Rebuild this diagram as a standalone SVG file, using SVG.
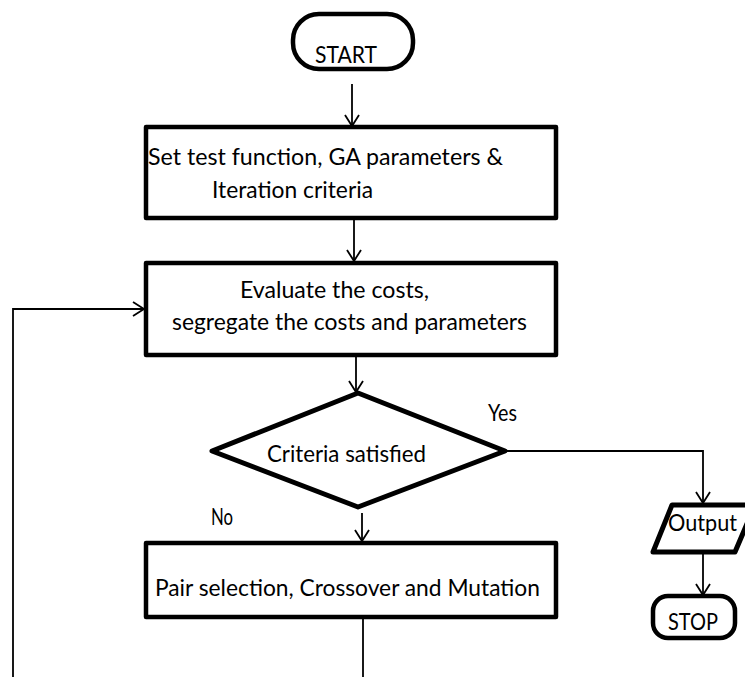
<svg xmlns="http://www.w3.org/2000/svg" width="745" height="677" viewBox="0 0 745 677">
<style>
  .shape { fill: #ffffff; stroke: #000000; stroke-width: 4.5; stroke-linejoin: round; }
  .conn { fill: none; stroke: #000000; stroke-width: 1.8; }
  .lbl { font-family: Lato, "Open Sans", "Liberation Sans", sans-serif; font-size: 23px; fill: #000000; }
</style>
<defs>
  <marker id="arr" viewBox="-12 -8 14 16" refX="0" refY="0" markerWidth="14" markerHeight="16" markerUnits="userSpaceOnUse" orient="auto" overflow="visible">
    <path d="M-11,-7 L0,0 L-11,7" fill="none" stroke="#000000" stroke-width="1.8"/>
  </marker>
</defs>
<rect width="745" height="677" fill="#ffffff"/>

<g id="connectors">
  <line class="conn" x1="352" y1="84" x2="352" y2="126" marker-end="url(#arr)"/>
  <line class="conn" x1="354" y1="219" x2="354" y2="261" marker-end="url(#arr)"/>
  <polyline class="conn" points="13,677 13,309 144,309" marker-end="url(#arr)"/>
  <line class="conn" x1="356" y1="356" x2="356" y2="392" marker-end="url(#arr)"/>
  <line class="conn" x1="362" y1="513" x2="362" y2="541" marker-end="url(#arr)"/>
  <polyline class="conn" points="505,451 703,451 703,503" marker-end="url(#arr)"/>
  <line class="conn" x1="703" y1="545" x2="703" y2="595" marker-end="url(#arr)"/>
  <line class="conn" x1="363" y1="617" x2="363" y2="677"/>
  <text class="lbl" x="488" y="421" textLength="29" lengthAdjust="spacingAndGlyphs">Yes</text>
  <text class="lbl" x="211" y="525" textLength="22" lengthAdjust="spacingAndGlyphs">No</text>
</g>

<g id="start">
  <rect class="shape" x="293" y="14" width="120" height="55" rx="26" ry="26"/>
  <text class="lbl" x="315" y="63" textLength="62" lengthAdjust="spacingAndGlyphs">START</text>
</g>

<g id="setup">
  <rect class="shape" x="146" y="127" width="410" height="91"/>
  <text class="lbl" x="148" y="165" textLength="355" lengthAdjust="spacingAndGlyphs">Set test function, GA parameters &amp;</text>
  <text class="lbl" x="212" y="198" textLength="161" lengthAdjust="spacingAndGlyphs">Iteration criteria</text>
</g>

<g id="evaluate">
  <rect class="shape" x="146" y="263" width="410" height="92"/>
  <text class="lbl" x="240" y="298" textLength="189" lengthAdjust="spacingAndGlyphs">Evaluate the costs,</text>
  <text class="lbl" x="172" y="330" textLength="355" lengthAdjust="spacingAndGlyphs">segregate the costs and parameters</text>
</g>

<g id="decision">
  <polygon class="shape" points="358,393 505,451 358,507 212,451" style="stroke-width:5"/>
  <text class="lbl" x="267" y="462" textLength="159" lengthAdjust="spacingAndGlyphs">Criteria satisfied</text>
</g>

<g id="operators">
  <rect class="shape" x="146" y="543" width="410" height="74"/>
  <text class="lbl" x="155" y="596" textLength="385" lengthAdjust="spacingAndGlyphs">Pair selection, Crossover and Mutation</text>
</g>

<g id="output">
  <polygon class="shape" points="672,505 755,505 735,552 653,552" style="stroke-width:5"/>
  <text class="lbl" x="668" y="531" textLength="69" lengthAdjust="spacingAndGlyphs">Output</text>
</g>

<g id="stop">
  <rect class="shape" x="653" y="596" width="82" height="42" rx="15" ry="15"/>
  <text class="lbl" x="668" y="630" textLength="50" lengthAdjust="spacingAndGlyphs">STOP</text>
</g>
</svg>
